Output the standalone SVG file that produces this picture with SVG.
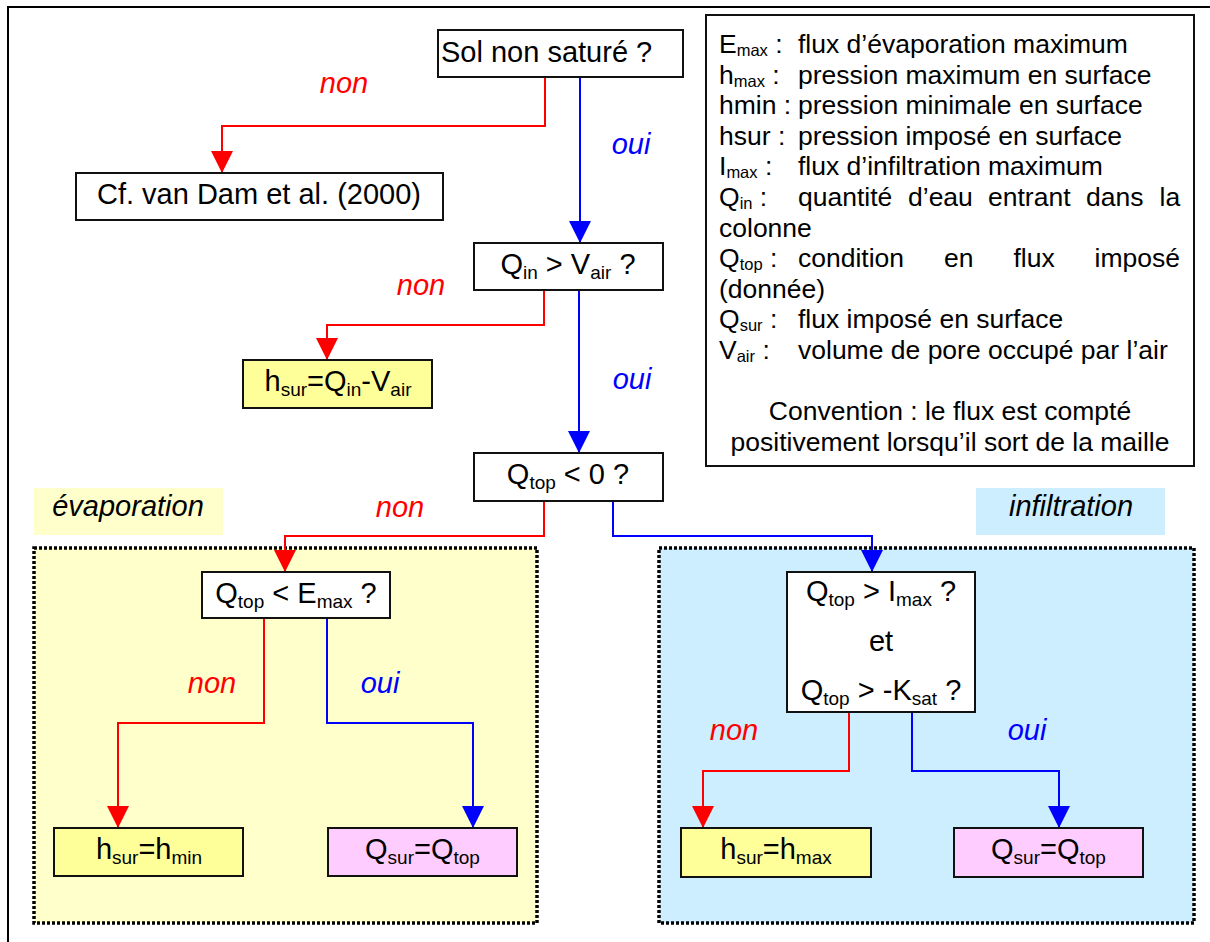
<svg xmlns="http://www.w3.org/2000/svg" width="1210" height="942" viewBox="0 0 1210 942">
<style>
text{font-family:"Liberation Sans",Arial,sans-serif;fill:#000}
.t{font-size:29px}
.c{text-anchor:middle}
.s{font-size:19px}
.lg{font-size:26.5px}
.ls{font-size:16.5px}
.lab{font-size:29px;font-style:italic}
.r{fill:#f00}
.b{fill:#00f}
.box{stroke:#111;stroke-width:2}
.white{fill:#fff}
.yel{fill:#ffff99}
.pink{fill:#ffccff}
.cr{fill:none;stroke:#f00;stroke-width:2}
.cb{fill:none;stroke:#00f;stroke-width:2}
.zone{stroke:#000;stroke-width:3.5;stroke-dasharray:3 2}
</style>
<defs>
<marker id="ar" markerUnits="userSpaceOnUse" markerWidth="22" markerHeight="22" refX="20" refY="10.5" orient="auto" viewBox="0 0 21 21"><path d="M0,0 L21,10.5 L0,21 z" fill="#f00"/></marker>
<marker id="ab" markerUnits="userSpaceOnUse" markerWidth="22" markerHeight="22" refX="20" refY="10.5" orient="auto" viewBox="0 0 21 21"><path d="M0,0 L21,10.5 L0,21 z" fill="#00f"/></marker>
</defs>
<rect x="0" y="0" width="1210" height="942" fill="#fff"/>
<g id="frame" stroke="#000" stroke-width="2">
<line x1="8" y1="7" x2="1210" y2="7"/>
<line x1="8" y1="6" x2="8" y2="942"/>
</g>
<g id="zone-evaporation">
<rect x="34" y="548" width="503" height="375" fill="#ffffcc" class="zone"/>
<rect x="34" y="488" width="189" height="47" fill="#ffffcc"/>
<text x="128" y="516" class="lab c">évaporation</text>
</g>
<g id="zone-infiltration">
<rect x="659" y="548" width="535" height="375" fill="#cceeff" class="zone"/>
<rect x="976" y="488" width="189" height="47" fill="#cceeff"/>
<text x="1071" y="516" class="lab c">infiltration</text>
</g>
<g id="legend">
<rect x="706" y="15" width="488" height="451" class="box white"/>
<text class="lg" x="719" y="53">E<tspan class="ls" dy="3">max</tspan><tspan dy="-3"> :</tspan></text>
<text class="lg" x="798" y="53">flux d’évaporation maximum</text>
<text class="lg" x="719" y="83.5">h<tspan class="ls" dy="3">max</tspan><tspan dy="-3"> :</tspan></text>
<text class="lg" x="798" y="83.5">pression maximum en surface</text>
<text class="lg" x="719" y="114">hmin :</text>
<text class="lg" x="798" y="114">pression minimale en surface</text>
<text class="lg" x="719" y="144.5">hsur :</text>
<text class="lg" x="798" y="144.5">pression imposé en surface</text>
<text class="lg" x="719" y="175">I<tspan class="ls" dy="3">max</tspan><tspan dy="-3"> :</tspan></text>
<text class="lg" x="798" y="175">flux d’infiltration maximum</text>
<text class="lg" x="719" y="206">Q<tspan class="ls" dy="3">in</tspan><tspan dy="-3"> :</tspan></text>
<text class="lg" y="206"><tspan x="798">quantité</tspan><tspan x="908">d’eau</tspan><tspan x="988">entrant</tspan><tspan x="1086">dans</tspan><tspan x="1159.5">la</tspan></text>
<text class="lg" x="719" y="236.5">colonne</text>
<text class="lg" x="719" y="267">Q<tspan class="ls" dy="3">top</tspan><tspan dy="-3"> :</tspan></text>
<text class="lg" y="267"><tspan x="798">condition</tspan><tspan x="944">en</tspan><tspan x="1013.5">flux</tspan><tspan x="1094.5">imposé</tspan></text>
<text class="lg" x="719" y="297.5">(donnée)</text>
<text class="lg" x="719" y="328">Q<tspan class="ls" dy="3">sur</tspan><tspan dy="-3"> :</tspan></text>
<text class="lg" x="798" y="328">flux imposé en surface</text>
<text class="lg" x="719" y="358.5">V<tspan class="ls" dy="3">air</tspan><tspan dy="-3"> :</tspan></text>
<text class="lg" x="798" y="358.5">volume de pore occupé par l’air</text>
<text class="lg c" x="950" y="420">Convention : le flux est compté</text>
<text class="lg c" x="950" y="450.5">positivement lorsqu’il sort de la maille</text>
</g>
<g id="connectors">
<path class="cr" d="M545,77 V126 H222 V172" marker-end="url(#ar)"/>
<path class="cb" d="M580,77 V242" marker-end="url(#ab)"/>
<path class="cr" d="M544,290 V325 H327 V359" marker-end="url(#ar)"/>
<path class="cb" d="M579,290 V452" marker-end="url(#ab)"/>
<path class="cr" d="M544,501 V536 H285 V571" marker-end="url(#ar)"/>
<path class="cb" d="M613,501 V536 H872 V571" marker-end="url(#ab)"/>
<path class="cr" d="M264,618 V723 H118 V827" marker-end="url(#ar)"/>
<path class="cb" d="M327,618 V723 H473 V827" marker-end="url(#ab)"/>
<path class="cr" d="M849,712 V771 H703 V827" marker-end="url(#ar)"/>
<path class="cb" d="M912,712 V771 H1059 V827" marker-end="url(#ab)"/>
<text class="lab r c" x="344" y="93">non</text>
<text class="lab b c" x="631" y="154">oui</text>
<text class="lab r c" x="421" y="295">non</text>
<text class="lab b c" x="632" y="389">oui</text>
<text class="lab r c" x="400" y="517">non</text>
<text class="lab r c" x="212" y="693">non</text>
<text class="lab b c" x="380" y="693">oui</text>
<text class="lab r c" x="734" y="740">non</text>
<text class="lab b c" x="1027" y="740">oui</text>
</g>
<g id="n-sol">
<rect x="438" y="30" width="245" height="47" class="box white"/>
<text class="t" x="441" y="62">Sol non saturé ?</text>
</g>
<g id="n-vandam">
<rect x="76" y="173" width="367" height="47" class="box white"/>
<text class="t c" x="259" y="204">Cf. van Dam et al. (2000)</text>
</g>
<g id="n-qin">
<rect x="474" y="243" width="189" height="47" class="box white"/>
<text class="t c" x="568" y="274">Q<tspan class="s" dy="5">in</tspan><tspan dy="-5"> &gt; V</tspan><tspan class="s" dy="5">air</tspan><tspan dy="-5"> ?</tspan></text>
</g>
<g id="n-hsur1">
<rect x="243" y="360" width="189" height="48" class="box yel"/>
<text class="t c" x="338" y="391">h<tspan class="s" dy="5">sur</tspan><tspan dy="-5">=Q</tspan><tspan class="s" dy="5">in</tspan><tspan dy="-5">-V</tspan><tspan class="s" dy="5">air</tspan></text>
</g>
<g id="n-qtop0">
<rect x="474" y="453" width="189" height="48" class="box white"/>
<text class="t c" x="568" y="484">Q<tspan class="s" dy="5">top</tspan><tspan dy="-5"> &lt; 0 ?</tspan></text>
</g>
<g id="n-emax">
<rect x="202" y="572" width="188" height="46" class="box white"/>
<text class="t c" x="296" y="603">Q<tspan class="s" dy="5">top</tspan><tspan dy="-5"> &lt; E</tspan><tspan class="s" dy="5">max</tspan><tspan dy="-5"> ?</tspan></text>
</g>
<g id="n-hmin">
<rect x="54" y="828" width="189" height="48" class="box yel"/>
<text class="t c" x="149" y="859">h<tspan class="s" dy="5">sur</tspan><tspan dy="-5">=h</tspan><tspan class="s" dy="5">min</tspan></text>
</g>
<g id="n-qsur1">
<rect x="328" y="828" width="189" height="48" class="box pink"/>
<text class="t c" x="422.5" y="859">Q<tspan class="s" dy="5">sur</tspan><tspan dy="-5">=Q</tspan><tspan class="s" dy="5">top</tspan></text>
</g>
<g id="n-imax">
<rect x="787" y="572" width="188" height="140" class="box white"/>
<text class="t c" x="881" y="601">Q<tspan class="s" dy="5">top</tspan><tspan dy="-5"> &gt; I</tspan><tspan class="s" dy="5">max</tspan><tspan dy="-5"> ?</tspan></text>
<text class="t c" x="881" y="651">et</text>
<text class="t c" x="881" y="700">Q<tspan class="s" dy="5">top</tspan><tspan dy="-5"> &gt; -K</tspan><tspan class="s" dy="5">sat</tspan><tspan dy="-5"> ?</tspan></text>
</g>
<g id="n-hmax">
<rect x="681" y="828" width="190" height="49" class="box yel"/>
<text class="t c" x="776" y="859">h<tspan class="s" dy="5">sur</tspan><tspan dy="-5">=h</tspan><tspan class="s" dy="5">max</tspan></text>
</g>
<g id="n-qsur2">
<rect x="954" y="828" width="189" height="49" class="box pink"/>
<text class="t c" x="1048.5" y="859">Q<tspan class="s" dy="5">sur</tspan><tspan dy="-5">=Q</tspan><tspan class="s" dy="5">top</tspan></text>
</g>
</svg>
